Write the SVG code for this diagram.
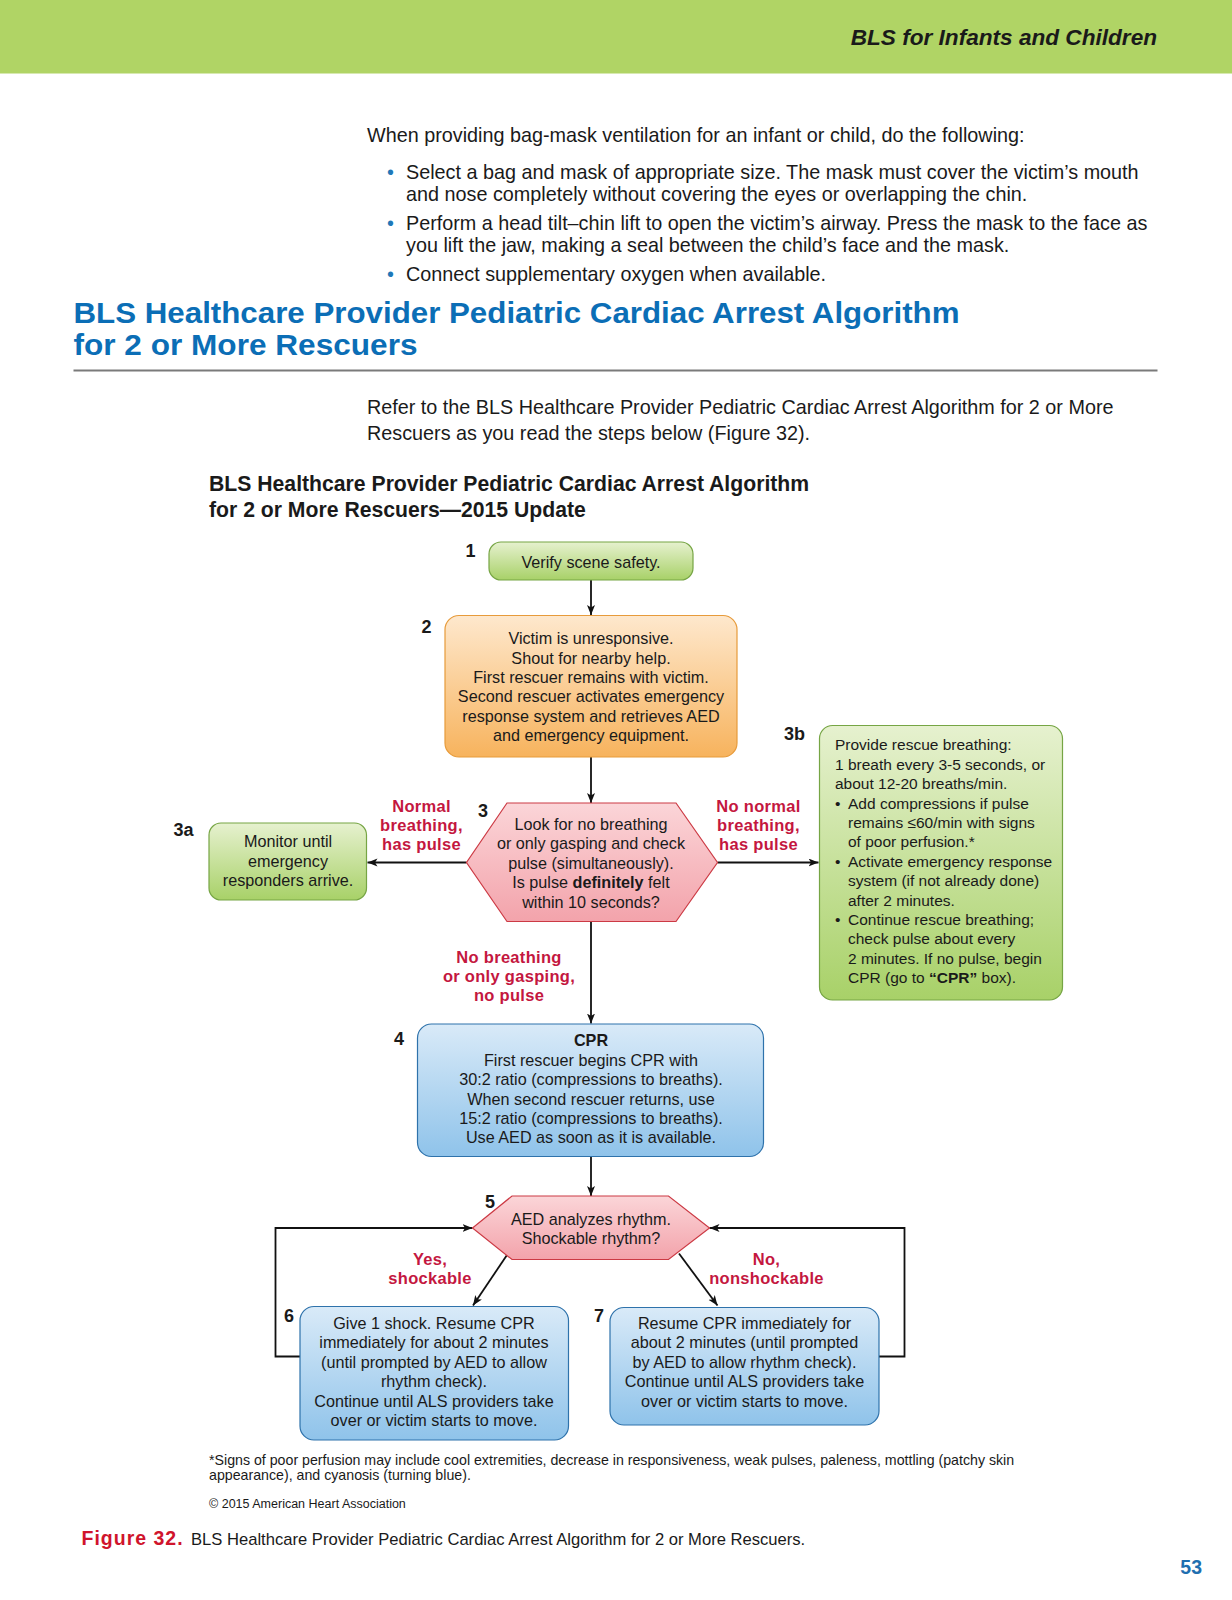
<svg xmlns="http://www.w3.org/2000/svg" width="1232" height="1600" viewBox="0 0 1232 1600">
<defs>
<style>
text{font-family:"Liberation Sans",Arial,Helvetica,sans-serif;fill:#1a1a1a}
.body{font-size:19.8px}
.node{font-size:16.2px;text-anchor:middle}
.nodeL{font-size:15.5px}
.num{font-size:18px;font-weight:bold}
.red{font-size:16.5px;font-weight:bold;fill:#c4173f;text-anchor:middle;letter-spacing:0.3px}
.conn{stroke:#111;stroke-width:1.8;fill:none}
.foot{font-size:14.2px}
</style>
<linearGradient id="gGreen" x1="0" y1="0" x2="0" y2="1"><stop offset="0" stop-color="#e6f1cf"/><stop offset="1" stop-color="#a8d168"/></linearGradient>
<linearGradient id="gOrange" x1="0" y1="0" x2="0" y2="1"><stop offset="0" stop-color="#fee8cd"/><stop offset="1" stop-color="#f7b35d"/></linearGradient>
<linearGradient id="gPink" x1="0" y1="0" x2="0" y2="1"><stop offset="0" stop-color="#fbd5d8"/><stop offset="1" stop-color="#f3a3ab"/></linearGradient>
<linearGradient id="gBlue" x1="0" y1="0" x2="0" y2="1"><stop offset="0" stop-color="#d9eaf8"/><stop offset="1" stop-color="#8fc3ea"/></linearGradient>
<marker id="arr" markerUnits="userSpaceOnUse" markerWidth="12" markerHeight="10" refX="10" refY="4" orient="auto"><path d="M0,0 L10,4 L0,8 L2.5,4 z" fill="#111"/></marker>
</defs>
<rect x="0" y="0" width="1232" height="1600" fill="#ffffff"/>
<rect x="0" y="0" width="1232" height="73.5" fill="#b0d465"/>
<text x="1157" y="45" text-anchor="end" style="font-size:22.6px;font-weight:bold;font-style:italic">BLS for Infants and Children</text>

<text class="body" x="367" y="142">When providing bag-mask ventilation for an infant or child, do the following:</text>
<text class="body" x="387" y="179" style="fill:#1f78b8">•</text>
<text class="body" x="406" y="179">Select a bag and mask of appropriate size. The mask must cover the victim’s mouth</text>
<text class="body" x="406" y="201">and nose completely without covering the eyes or overlapping the chin.</text>
<text class="body" x="387" y="230" style="fill:#1f78b8">•</text>
<text class="body" x="406" y="230">Perform a head tilt–chin lift to open the victim’s airway. Press the mask to the face as</text>
<text class="body" x="406" y="252">you lift the jaw, making a seal between the child’s face and the mask.</text>
<text class="body" x="387" y="281" style="fill:#1f78b8">•</text>
<text class="body" x="406" y="281">Connect supplementary oxygen when available.</text>

<text x="73.5" y="322.5" textLength="886" lengthAdjust="spacingAndGlyphs" style="font-size:29px;font-weight:bold;fill:#0b6eb6">BLS Healthcare Provider Pediatric Cardiac Arrest Algorithm</text>
<text x="73.5" y="355" textLength="344" lengthAdjust="spacingAndGlyphs" style="font-size:29px;font-weight:bold;fill:#0b6eb6">for 2 or More Rescuers</text>
<line x1="73.5" y1="370.5" x2="1157.5" y2="370.5" stroke="#7a7a7a" stroke-width="2"/>

<text class="body" x="367" y="413.5">Refer to the BLS Healthcare Provider Pediatric Cardiac Arrest Algorithm for 2 or More</text>
<text class="body" x="367" y="440">Rescuers as you read the steps below (Figure 32).</text>

<text x="209" y="491" style="font-size:21.2px;font-weight:bold">BLS Healthcare Provider Pediatric Cardiac Arrest Algorithm</text>
<text x="209" y="516.5" style="font-size:21.2px;font-weight:bold">for 2 or More Rescuers—2015 Update</text>

<g id="connectors">
<line class="conn" x1="591" y1="580" x2="591" y2="615" marker-end="url(#arr)"/>
<line class="conn" x1="591" y1="757" x2="591" y2="803" marker-end="url(#arr)"/>
<line class="conn" x1="466.5" y1="862.5" x2="367.5" y2="862.5" marker-end="url(#arr)"/>
<line class="conn" x1="717.5" y1="862.5" x2="818.5" y2="862.5" marker-end="url(#arr)"/>
<line class="conn" x1="591" y1="921.5" x2="591" y2="1023.5" marker-end="url(#arr)"/>
<line class="conn" x1="591" y1="1156.5" x2="591" y2="1196" marker-end="url(#arr)"/>
<line class="conn" x1="508" y1="1253.5" x2="473" y2="1305.5" marker-end="url(#arr)"/>
<line class="conn" x1="679" y1="1253.5" x2="717.5" y2="1305.5" marker-end="url(#arr)"/>
<polyline class="conn" points="300,1356.5 275.5,1356.5 275.5,1228 472.5,1228" marker-end="url(#arr)"/>
<polyline class="conn" points="879,1356.5 904.5,1356.5 904.5,1228 709.5,1228" marker-end="url(#arr)"/>
<text class="red" x="421.5" y="811.5">Normal</text>
<text class="red" x="421.5" y="831">breathing,</text>
<text class="red" x="421.5" y="850">has pulse</text>
<text class="red" x="758.5" y="811.5">No normal</text>
<text class="red" x="758.5" y="831">breathing,</text>
<text class="red" x="758.5" y="850">has pulse</text>
<text class="red" x="509" y="962.5">No breathing</text>
<text class="red" x="509" y="982">or only gasping,</text>
<text class="red" x="509" y="1001">no pulse</text>
<text class="red" x="430" y="1264.5">Yes,</text>
<text class="red" x="430" y="1284">shockable</text>
<text class="red" x="766.5" y="1264.5">No,</text>
<text class="red" x="766.5" y="1284">nonshockable</text>
</g>

<g id="node1">
<rect x="489" y="542" width="204" height="38" rx="12" fill="url(#gGreen)" stroke="#76a544" stroke-width="1.2"/>
<text class="num" x="465.5" y="557">1</text>
<text class="node" x="591" y="567.5">Verify scene safety.</text>
</g>

<g id="node2">
<rect x="445" y="615.5" width="292" height="141.5" rx="14" fill="url(#gOrange)" stroke="#e79b3b" stroke-width="1.2"/>
<text class="num" x="421.5" y="633">2</text>
<text class="node" x="591" y="644">Victim is unresponsive.</text>
<text class="node" x="591" y="663.5">Shout for nearby help.</text>
<text class="node" x="591" y="683">First rescuer remains with victim.</text>
<text class="node" x="591" y="702">Second rescuer activates emergency</text>
<text class="node" x="591" y="721.5">response system and retrieves AED</text>
<text class="node" x="591" y="741">and emergency equipment.</text>
</g>

<g id="node3">
<polygon points="507,803 676,803 717.5,862.5 676,921.5 507,921.5 466.5,862.5" fill="url(#gPink)" stroke="#cc3a44" stroke-width="1.2"/>
<text class="num" x="478" y="816.5">3</text>
<text class="node" x="591" y="830">Look for no breathing</text>
<text class="node" x="591" y="849">or only gasping and check</text>
<text class="node" x="591" y="868.5">pulse (simultaneously).</text>
<text class="node" x="591" y="888">Is pulse <tspan font-weight="bold">definitely</tspan> felt</text>
<text class="node" x="591" y="907.5">within 10 seconds?</text>
</g>

<g id="node3a">
<rect x="209" y="823" width="157.5" height="77" rx="12" fill="url(#gGreen)" stroke="#76a544" stroke-width="1.2"/>
<text class="num" x="173.5" y="836">3a</text>
<text class="node" x="288" y="847">Monitor until</text>
<text class="node" x="288" y="866.5">emergency</text>
<text class="node" x="288" y="886">responders arrive.</text>
</g>

<g id="node3b">
<rect x="819.5" y="725.5" width="243" height="274.5" rx="13" fill="url(#gGreen)" stroke="#76a544" stroke-width="1.2"/>
<text class="num" x="784" y="740">3b</text>
<text class="nodeL" x="835" y="750">Provide rescue breathing:</text>
<text class="nodeL" x="835" y="769.5">1 breath every 3-5 seconds, or</text>
<text class="nodeL" x="835" y="789">about 12-20 breaths/min.</text>
<text class="nodeL" x="835" y="808.5">•</text>
<text class="nodeL" x="848" y="808.5">Add compressions if pulse</text>
<text class="nodeL" x="848" y="828">remains ≤60/min with signs</text>
<text class="nodeL" x="848" y="847">of poor perfusion.*</text>
<text class="nodeL" x="835" y="866.5">•</text>
<text class="nodeL" x="848" y="866.5">Activate emergency response</text>
<text class="nodeL" x="848" y="886">system (if not already done)</text>
<text class="nodeL" x="848" y="905.5">after 2 minutes.</text>
<text class="nodeL" x="835" y="925">•</text>
<text class="nodeL" x="848" y="925">Continue rescue breathing;</text>
<text class="nodeL" x="848" y="944">check pulse about every</text>
<text class="nodeL" x="848" y="963.5">2 minutes. If no pulse, begin</text>
<text class="nodeL" x="848" y="983">CPR (go to <tspan font-weight="bold">“CPR”</tspan> box).</text>
</g>

<g id="node4">
<rect x="417.5" y="1024" width="346" height="132.5" rx="14" fill="url(#gBlue)" stroke="#2e72ab" stroke-width="1.2"/>
<text class="num" x="394" y="1045">4</text>
<text class="node" x="591" y="1046" font-weight="bold">CPR</text>
<text class="node" x="591" y="1065.5">First rescuer begins CPR with</text>
<text class="node" x="591" y="1085">30:2 ratio (compressions to breaths).</text>
<text class="node" x="591" y="1104.5">When second rescuer returns, use</text>
<text class="node" x="591" y="1124">15:2 ratio (compressions to breaths).</text>
<text class="node" x="591" y="1143">Use AED as soon as it is available.</text>
</g>

<g id="node5">
<polygon points="512,1196 668.5,1196 709.5,1228 668.5,1259.5 512,1259.5 472.5,1228" fill="url(#gPink)" stroke="#cc3a44" stroke-width="1.2"/>
<text class="num" x="485" y="1207.5">5</text>
<text class="node" x="591" y="1225">AED analyzes rhythm.</text>
<text class="node" x="591" y="1244">Shockable rhythm?</text>
</g>

<g id="node6">
<rect x="300" y="1306.5" width="268.5" height="133.5" rx="14" fill="url(#gBlue)" stroke="#2e72ab" stroke-width="1.2"/>
<text class="num" x="284" y="1321.5">6</text>
<text class="node" x="434" y="1329">Give 1 shock. Resume CPR</text>
<text class="node" x="434" y="1348">immediately for about 2 minutes</text>
<text class="node" x="434" y="1367.5">(until prompted by AED to allow</text>
<text class="node" x="434" y="1387">rhythm check).</text>
<text class="node" x="434" y="1406.5">Continue until ALS providers take</text>
<text class="node" x="434" y="1426">over or victim starts to move.</text>
</g>

<g id="node7">
<rect x="610" y="1307.5" width="269" height="117.5" rx="14" fill="url(#gBlue)" stroke="#2e72ab" stroke-width="1.2"/>
<text class="num" x="594" y="1321.5">7</text>
<text class="node" x="744.5" y="1329">Resume CPR immediately for</text>
<text class="node" x="744.5" y="1348">about 2 minutes (until prompted</text>
<text class="node" x="744.5" y="1367.5">by AED to allow rhythm check).</text>
<text class="node" x="744.5" y="1387">Continue until ALS providers take</text>
<text class="node" x="744.5" y="1406.5">over or victim starts to move.</text>
</g>

<text class="foot" x="209" y="1465">*Signs of poor perfusion may include cool extremities, decrease in responsiveness, weak pulses, paleness, mottling (patchy skin</text>
<text class="foot" x="209" y="1480">appearance), and cyanosis (turning blue).</text>
<text x="209" y="1507.5" style="font-size:12.5px">© 2015 American Heart Association</text>

<text x="81.5" y="1544.5" style="font-size:19.5px;font-weight:bold;fill:#d0142c;letter-spacing:1px">Figure 32.</text>
<text x="191" y="1544.5" style="font-size:16.6px">BLS Healthcare Provider Pediatric Cardiac Arrest Algorithm for 2 or More Rescuers.</text>
<text x="1202" y="1574" text-anchor="end" style="font-size:19.5px;font-weight:bold;fill:#1f6fb0">53</text>
</svg>
